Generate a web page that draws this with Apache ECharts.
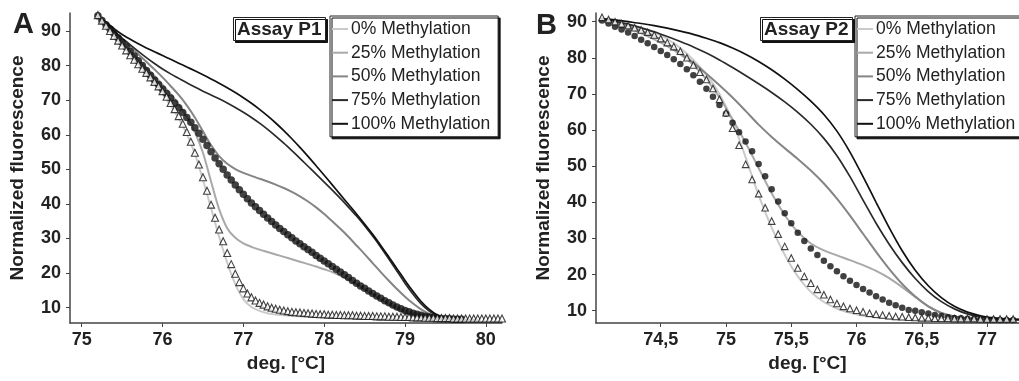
<!DOCTYPE html>
<html>
<head>
<meta charset="utf-8">
<script src="https://cdn.jsdelivr.net/npm/echarts@6/dist/echarts.min.js"></script>
<style>
  html, body { margin: 0; padding: 0; background: #fff; }
  #chart { width: 1019px; height: 381px; }
</style>
</head>
<body>
<div id="chart"></div>
<script>
// ---- Melting-curve data (normalized fluorescence vs temperature) ----

const seriesNames = ['0% Methylation', '25% Methylation', '50% Methylation', '75% Methylation', '100% Methylation'];
const lineColors = ['#cacaca', '#a9a9a9', '#858585', '#2a2a2a', '#111111'];

const yTicks = [10, 20, 30, 40, 50, 60, 70, 80, 90];
const xTicksA = [75, 76, 77, 78, 79, 80];
const xTicksB = [74.5, 75, 75.5, 76, 76.5, 77];

// regular temperature sampling used by the instrument
function tempGrid(start, step, count) {
  const out = [];
  for (let i = 0; i < count; i++) out.push(+(start + i * step).toFixed(2));
  return out;
}

// Assay P1: standards, sampled every 0.1 °C from 75.2 °C
const lineTempA = tempGrid(75.2, 0.1, 48);
const p1_0 = [94.6, 91.5, 88.5, 85.6, 82.8, 80.0, 77.3, 74.6, 71.7, 68.5, 64.8, 60.3, 54.5, 47.0, 38.8, 30.5, 23.0, 16.8, 12.5, 10.2, 9.1, 8.4, 8.0, 7.8, 7.6, 7.5, 7.4, 7.4, 7.3, 7.2, 7.2, 7.1, 7.1, 7.0, 7.0, 6.9, 6.9, 6.8, 6.8, 6.8, 6.7, 6.7, 6.6, 6.6, 6.5, 6.5, 6.5, 6.4];
const p1_25 = [94.6, 91.8, 89.2, 86.7, 84.2, 81.8, 79.4, 77.0, 74.5, 71.8, 68.8, 65.3, 60.8, 54.8, 46.5, 38.5, 33.0, 30.2, 28.6, 27.6, 26.8, 26.1, 25.4, 24.7, 24.0, 23.3, 22.6, 21.9, 21.1, 20.3, 19.3, 18.1, 16.8, 15.3, 13.8, 12.3, 10.9, 9.7, 8.7, 7.9, 7.4, 7.0, 6.8, 6.6, 6.5, 6.5, 6.5, 6.4];
const p1_50 = [94.6, 92.2, 89.9, 87.7, 85.5, 83.3, 81.1, 78.9, 76.6, 74.1, 71.5, 68.5, 65.0, 61.0, 57.0, 53.8, 51.6, 50.1, 49.0, 48.1, 47.3, 46.5, 45.6, 44.6, 43.5, 42.2, 40.7, 39.0, 37.1, 35.0, 32.8, 30.5, 28.0, 25.5, 22.9, 20.3, 17.8, 15.4, 13.2, 11.2, 9.5, 8.2, 7.3, 6.8, 6.6, 6.5, 6.5, 6.4];
const p1_75 = [94.6, 92.3, 90.0, 87.9, 86.0, 84.1, 82.3, 80.6, 79.0, 77.6, 76.3, 75.0, 73.8, 72.6, 71.5, 70.4, 69.2, 67.9, 66.5, 65.0, 63.35, 61.55, 59.6, 57.55, 55.4, 53.2, 50.9, 48.6, 46.3, 44.0, 41.6, 39.1, 36.5, 33.7, 30.7, 27.5, 24.1, 20.6, 17.1, 13.9, 11.1, 9.0, 7.6, 6.9, 6.6, 6.5, 6.5, 6.4];
const p1_100 = [94.6, 92.6, 90.7, 89.0, 87.6, 86.3, 85.1, 84.0, 82.9, 81.8, 80.7, 79.6, 78.5, 77.35, 76.15, 74.9, 73.6, 72.2, 70.7, 69.1, 67.35, 65.45, 63.4, 61.2, 58.85, 56.35, 53.75, 51.05, 48.3, 45.5, 42.7, 39.9, 37.1, 34.2, 31.2, 28.0, 24.7, 21.3, 17.9, 14.7, 11.8, 9.5, 7.9, 7.0, 6.6, 6.5, 6.5, 6.4];

// Assay P1: samples, sampled every 0.05 °C from 75.2 °C
const markTempA = tempGrid(75.2, 0.05, 101);
const p1_triangles = [94.6, 93.0, 91.5, 90.0, 88.6, 87.2, 85.8, 84.4, 83.0, 81.7, 80.4, 79.1, 77.9, 76.6, 75.3, 74.0, 72.6, 71.0, 69.2, 67.4, 65.4, 63.2, 60.8, 58.0, 54.8, 51.4, 47.7, 43.8, 39.8, 36.0, 32.6, 29.2, 25.8, 22.6, 19.8, 17.4, 15.6, 14.1, 13.0, 12.1, 11.4, 10.9, 10.4, 10.0, 9.7, 9.4, 9.2, 9.0, 8.8, 8.7, 8.6, 8.5, 8.4, 8.3, 8.2, 8.1, 8.1, 8.0, 8.0, 7.9, 7.9, 7.8, 7.8, 7.8, 7.7, 7.7, 7.6, 7.6, 7.6, 7.5, 7.5, 7.5, 7.4, 7.4, 7.4, 7.3, 7.3, 7.3, 7.2, 7.2, 7.2, 7.1, 7.1, 7.1, 7.0, 7.0, 7.0, 7.0, 6.9, 6.9, 6.9, 6.9, 6.9, 6.9, 6.9, 6.9, 6.9, 6.9, 6.9, 6.9, 6.9];
const p1_circles = [94.4, 93.0, 91.8, 90.6, 89.3, 88.0, 86.7, 85.4, 84.1, 82.8, 81.4, 80.0, 78.6, 77.2, 75.8, 74.5, 73.2, 71.9, 70.6, 69.2, 67.8, 66.4, 65.0, 63.6, 62.0, 60.4, 58.7, 56.9, 55.1, 53.3, 51.6, 50.0, 48.4, 46.9, 45.5, 44.1, 42.8, 41.5, 40.3, 39.2, 38.1, 37.0, 35.9, 34.9, 33.9, 32.9, 32.0, 31.1, 30.2, 29.3, 28.5, 27.6, 26.8, 26.0, 25.1, 24.3, 23.5, 22.7, 21.9, 21.1, 20.3, 19.5, 18.7, 17.9, 17.1, 16.3, 15.6, 14.8, 14.1, 13.4, 12.7, 12.0, 11.4, 10.8, 10.2, 9.7, 9.2, 8.8, 8.4, 8.1, 7.8, 7.5, 7.3, 7.1, 7.0, 6.9, 6.8, 6.8, 6.7, 6.7, 6.7];

// Assay P2: standards, sampled every 0.1 °C from 74.05 °C
const lineTempB = tempGrid(74.05, 0.1, 33);
const p2_0 = [90.8, 90.1, 89.3, 88.3, 87.0, 85.2, 82.7, 79.4, 75.3, 70.0, 62.5, 52.5, 42.0, 33.0, 25.5, 19.5, 15.2, 12.4, 10.6, 9.4, 8.6, 8.1, 7.8, 7.6, 7.5, 7.5, 7.4, 7.4, 7.4, 7.4, 7.4, 7.4, 7.4];
const p2_25 = [90.8, 89.6, 88.3, 86.8, 85.1, 83.2, 80.9, 78.0, 74.0, 69.0, 63.0, 56.5, 49.5, 42.5, 36.5, 31.8, 28.6, 26.7, 25.3, 24.0, 22.6, 21.0, 19.0, 16.5, 13.8, 11.2, 9.4, 8.4, 7.9, 7.6, 7.5, 7.4, 7.4];
const p2_50 = [90.8, 89.9, 88.8, 87.5, 86.0, 84.0, 81.3, 78.6, 75.6, 72.4, 69.0, 65.3, 61.5, 58.1, 55.0, 52.0, 48.8, 45.2, 41.0, 36.3, 31.3, 26.3, 21.6, 17.4, 13.9, 11.2, 9.4, 8.4, 7.9, 7.6, 7.5, 7.4, 7.4];
const p2_75 = [90.8, 90.1, 89.3, 88.3, 87.2, 85.9, 84.5, 83.0, 81.3, 79.4, 77.3, 75.1, 72.8, 70.4, 67.8, 64.9, 61.6, 57.7, 52.9, 47.1, 40.6, 34.2, 28.4, 23.3, 18.9, 15.3, 12.5, 10.5, 9.1, 8.3, 7.8, 7.6, 7.5];
const p2_100 = [90.8, 90.5, 90.0, 89.5, 88.9, 88.2, 87.4, 86.5, 85.4, 84.2, 82.7, 81.0, 79.0, 76.7, 74.1, 71.2, 68.0, 64.3, 59.7, 53.9, 47.1, 40.0, 33.0, 26.6, 21.2, 16.9, 13.6, 11.2, 9.6, 8.6, 8.0, 7.7, 7.6];

// Assay P2: samples, sampled every 0.05 °C from 74.05 °C
const markTempB = tempGrid(74.05, 0.05, 65);
const p2_triangles = [91.2, 90.6, 90.0, 89.4, 88.9, 88.3, 87.7, 87.1, 86.3, 85.3, 84.2, 83.1, 81.8, 80.0, 78.0, 76.0, 74.0, 71.5, 68.5, 64.8, 60.5, 55.8, 50.5, 46.3, 42.4, 38.5, 34.8, 31.2, 27.8, 24.6, 21.8, 19.5, 17.6, 15.9, 14.4, 13.1, 12.0, 11.2, 10.6, 10.1, 9.7, 9.3, 9.0, 8.8, 8.6, 8.4, 8.3, 8.2, 8.1, 8.0, 8.0, 7.9, 7.9, 7.9, 7.8, 7.8, 7.8, 7.8, 7.7, 7.7, 7.7, 7.7, 7.7, 7.7, 7.7];
const p2_circles = [90.3, 89.5, 88.6, 87.8, 87.0, 86.0, 85.0, 84.0, 83.0, 81.9, 80.8, 79.6, 78.3, 76.8, 75.2, 73.4, 71.4, 69.2, 66.9, 64.5, 62.0, 59.4, 56.8, 54.1, 50.6, 47.2, 43.6, 40.2, 37.0, 34.2, 31.6, 29.3, 27.2, 25.4, 23.8, 22.3, 20.9, 19.5, 18.3, 17.1, 16.0, 15.0, 14.0, 13.1, 12.2, 11.5, 10.8, 10.2, 10.0, 9.6, 9.2, 8.8, 8.5, 8.2, 8.0, 7.9, 7.8, 7.7, 7.6, 7.5, 7.5, 7.4, 7.4, 7.4, 7.4];

// ---- helpers ----
const pairs = (xs, ys) => ys.map((v, i) => [xs[i], v]);
const FONT = 'Liberation Sans, Arial, sans-serif';
const INK = '#222';

function standardSeries(idx, temps, values, axisIdx) {
  return {
    name: seriesNames[idx],
    type: 'line',
    xAxisIndex: axisIdx,
    yAxisIndex: axisIdx,
    data: pairs(temps, values),
    smooth: 0.3,
    showSymbol: false,
    symbol: 'none',
    color: lineColors[idx],
    itemStyle: { color: lineColors[idx] },
    lineStyle: { color: lineColors[idx], width: idx >= 3 ? 1.7 : 2 },
    z: 2,
    animation: false
  };
}

function triangleSeries(temps, values, axisIdx, size) {
  return {
    name: 'sample-triangle',
    type: 'scatter',
    xAxisIndex: axisIdx,
    yAxisIndex: axisIdx,
    data: pairs(temps, values),
    symbol: 'triangle',
    symbolSize: size,
    itemStyle: { color: '#fff', borderColor: '#111', borderWidth: 1.1 },
    z: 4,
    animation: false
  };
}

function circleSeries(temps, values, axisIdx, size) {
  return {
    name: 'sample-circle',
    type: 'scatter',
    xAxisIndex: axisIdx,
    yAxisIndex: axisIdx,
    data: pairs(temps, values),
    symbol: 'circle',
    symbolSize: size,
    itemStyle: { color: '#111' },
    z: 3,
    animation: false
  };
}

function xAxisCfg(gridIdx, min, max, ticks, fmt) {
  return {
    type: 'value', gridIndex: gridIdx, min: min, max: max,
    name: 'deg. [°C]', nameLocation: 'middle', nameGap: 27,
    nameTextStyle: { fontFamily: FONT, fontWeight: 'bold', fontSize: 19, color: INK },
    axisLine: { show: true, lineStyle: { color: '#444', width: 1.5 } },
    axisTick: { show: true, length: 4, lineStyle: { color: '#444', width: 1 }, customValues: ticks },
    axisLabel: { customValues: ticks, margin: 8, formatter: fmt, fontFamily: FONT, fontWeight: 'bold', fontSize: 18, color: INK },
    splitLine: { show: false }
  };
}

function yAxisCfg(gridIdx, min, max) {
  return {
    type: 'value', gridIndex: gridIdx, min: min, max: max,
    name: 'Normalized fluorescence', nameLocation: 'middle', nameGap: 43, nameRotate: 90,
    nameTextStyle: { fontFamily: FONT, fontWeight: 'bold', fontSize: 19, color: INK },
    axisLine: { show: true, lineStyle: { color: '#444', width: 1.5 } },
    axisTick: { show: true, length: 4, lineStyle: { color: '#444', width: 1 }, customValues: yTicks },
    axisLabel: { customValues: yTicks, margin: 9, fontFamily: FONT, fontWeight: 'bold', fontSize: 18, color: INK },
    splitLine: { show: false }
  };
}

function legendCfg(left) {
  return {
    data: seriesNames,
    orient: 'vertical',
    left: left, top: 16,
    icon: 'rect', itemWidth: 16, itemHeight: 2, itemGap: 3.7,
    padding: [3, 8, 3, 2],
    backgroundColor: '#fff',
    borderColor: '#222', borderWidth: 1,
    shadowColor: '#111', shadowOffsetX: 2, shadowOffsetY: 2, shadowBlur: 0,
    selectedMode: false,
    textStyle: { fontFamily: FONT, fontSize: 17.5, color: INK, lineHeight: 20, padding: [0, 0, 0, -2] }
  };
}

function assayBox(text, left) {
  return {
    text: text, left: left, top: 17,
    padding: [3, 4, 2, 4],
    backgroundColor: '#fff', borderColor: '#222', borderWidth: 1,
    shadowColor: '#111', shadowOffsetX: 2, shadowOffsetY: 2, shadowBlur: 0,
    textStyle: { fontFamily: FONT, fontWeight: 'bold', fontSize: 19, color: INK }
  };
}

const commaFmt = v => String(v).replace('.', ',');

const chart = echarts.init(document.getElementById('chart'), null, { renderer: 'canvas' });
chart.setOption({
  animation: false,
  backgroundColor: '#fff',
  title: [
    { text: 'A', left: 13, top: 10, padding: 0, textStyle: { fontFamily: FONT, fontWeight: 'bold', fontSize: 29, color: INK } },
    { text: 'B', left: 536, top: 11, padding: 0, textStyle: { fontFamily: FONT, fontWeight: 'bold', fontSize: 29, color: INK } },
    assayBox('Assay P1', 233),
    assayBox('Assay P2', 760)
  ],
  legend: [legendCfg(330), legendCfg(855)],
  grid: [
    { left: 70, top: 13, width: 432, height: 310, containLabel: false },
    { left: 596, top: 13, width: 423, height: 310, containLabel: false }
  ],
  xAxis: [
    xAxisCfg(0, 74.855, 80.2, xTicksA, v => String(v)),
    xAxisCfg(1, 74.004, 77.245, xTicksB, commaFmt)
  ],
  yAxis: [
    yAxisCfg(0, 5.58, 95.2),
    yAxisCfg(1, 6.59, 92.4)
  ],
  series: [
    standardSeries(0, lineTempA, p1_0, 0),
    standardSeries(1, lineTempA, p1_25, 0),
    standardSeries(2, lineTempA, p1_50, 0),
    standardSeries(3, lineTempA, p1_75, 0),
    standardSeries(4, lineTempA, p1_100, 0),
    circleSeries(markTempA, p1_circles, 0, 7.5),
    triangleSeries(markTempA, p1_triangles, 0, 7),
    standardSeries(0, lineTempB, p2_0, 1),
    standardSeries(1, lineTempB, p2_25, 1),
    standardSeries(2, lineTempB, p2_50, 1),
    standardSeries(3, lineTempB, p2_75, 1),
    standardSeries(4, lineTempB, p2_100, 1),
    circleSeries(markTempB, p2_circles, 1, 6.5),
    triangleSeries(markTempB, p2_triangles, 1, 6.5)
  ]
});
</script>
</body>
</html>
